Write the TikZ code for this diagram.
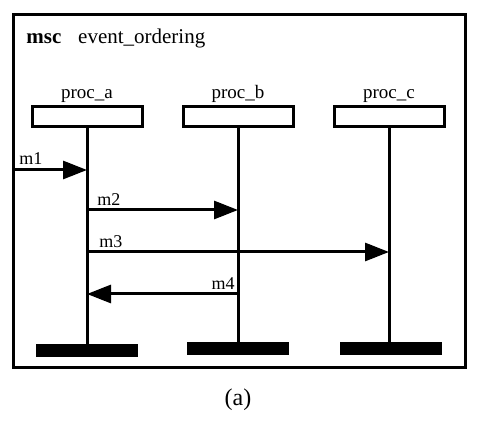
\documentclass[tikz,border=0pt]{standalone}
\usepackage{fontspec}
\setmainfont{Liberation Serif}
\usetikzlibrary{arrows.meta, positioning, calc}

\begin{document}
\begin{tikzpicture}[x=0.5pt, y=-0.5pt,
    % Process head boxes
    procbox/.style={draw, line width=1.5pt, minimum width=55pt, minimum height=10pt, inner sep=0pt},
    % Process end bars
    procend/.style={fill=black, minimum width=51pt, minimum height=6.5pt, inner sep=0pt},
    % Labels
    proclabel/.style={font=\fontsize{9.5}{11}\selectfont, inner sep=1pt},
    msglabel/.style={font=\fontsize{9}{11}\selectfont, inner sep=1pt},
    lifeline/.style={line width=1.5pt},
    msg/.style={line width=1.5pt, -{Triangle[length=12pt, width=9pt]}}
]
\useasboundingbox (0,0) rectangle (487,421);

% Frame
\draw[line width=1.5pt] (13,14.5) rectangle (465,368);
\node[anchor=base west, inner sep=0pt, font=\fontsize{10.5}{12}\selectfont] (title) at (26,44)
    {\textbf{msc}\hspace{0.8em}event\_ordering};

% Process heads
\node[procbox] (a) at (87,116.5) {};
\node[procbox] (b) at (238,116.5) {};
\node[procbox] (c) at (389,116.5) {};
\node[proclabel, above=0pt of a] (alabel) {proc\_a};
\node[proclabel, above=0pt of b] (blabel) {proc\_b};
\node[proclabel, above=0pt of c] (clabel) {proc\_c};

% Process ends
\node[procend] (aend) at (87,350.5) {};
\node[procend] (bend) at (238,348.5) {};
\node[procend] (cend) at (391,348.5) {};

% Lifelines
\draw[lifeline] (a.south) -- (aend.north);
\draw[lifeline] (b.south) -- (b.south |- bend.north);
\draw[lifeline] (c.south) -- (c.south |- cend.north);

% Message end points
\coordinate (env) at (13,170);
\coordinate (a1) at (a.south |- 0,170);
\coordinate (a2) at (a.south |- 0,210);
\coordinate (b2) at (b.south |- 0,210);
\coordinate (a3) at (a.south |- 0,252);
\coordinate (c3) at (c.south |- 0,252);
\coordinate (b4) at (b.south |- 0,294);
\coordinate (a4) at (a.south |- 0,294);

% Messages
\draw[msg] (env) -- (a1);
\draw[msg] (a2) -- (b2);
\draw[msg] (a3) -- (c3);
\draw[msg] (b4) -- (a4);
\node[msglabel, anchor=base west] (m1) at (17,165) {m1};
\node[msglabel, anchor=base west] (m2) at (95,206) {m2};
\node[msglabel, anchor=base west] (m3) at (97,248) {m3};
\node[msglabel, anchor=base east] (m4) at (237,290) {m4};

% Caption
\node[font=\fontsize{12}{14}\selectfont] (caption) at (238,400) {(a)};
\end{tikzpicture}
\end{document}
